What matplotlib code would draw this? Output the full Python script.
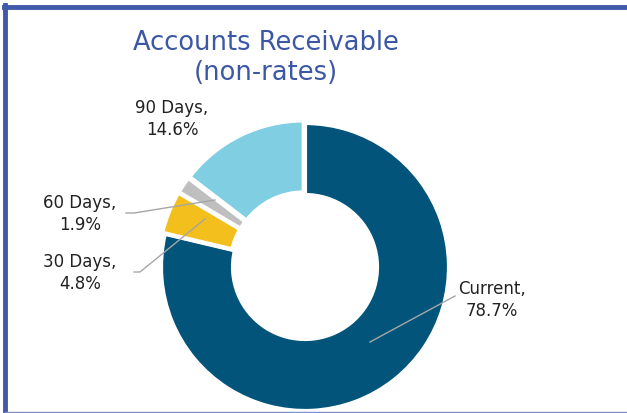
import matplotlib.pyplot as plt
from matplotlib.lines import Line2D

labels = ["Current", "30 Days", "60 Days", "90 Days"]
values = [78.7, 4.8, 1.9, 14.6]
colors = ["#02547A", "#F2BF1C", "#BFBFBF", "#80CEE1"]

plt.rcParams['font.family'] = ['DejaVu Sans']

fig = plt.figure(figsize=(6.27, 4.14), dpi=100)
ax = fig.add_axes([0, 0, 1, 1])

# pie center at pixel (305, 268), radius ~144 px
s = 144.0

wedges, _ = ax.pie(values, colors=colors, startangle=90, counterclock=False,
                   radius=1.0, wedgeprops=dict(width=0.5, edgecolor="white", linewidth=3),
                   explode=[0, 0.02, 0.02, 0.02])
ax.set_aspect("auto")
ax.set_xlim(-305 / s, (627 - 305) / s)
ax.set_ylim(-(414 - 268) / s, 268 / s)
ax.axis("off")

def px(x, y):
    return ((x - 305) / s, (268 - y) / s)

lc = "#A6A6A6"
fs = 12
tc = "#222222"
# Current
ax.plot(*zip(px(370, 343), px(455, 297)), color=lc, lw=1)
ax.text(*px(492, 300), "Current,\n78.7%", ha="center", va="center", fontsize=fs, color=tc, linespacing=1.3)
# 30 Days
ax.plot(*zip(px(134, 273), px(140, 273), px(205, 220)), color=lc, lw=1)
ax.text(*px(80, 273), "30 Days,\n4.8%", ha="center", va="center", fontsize=fs, color=tc, linespacing=1.3)
# 60 Days
ax.plot(*zip(px(126, 214), px(134, 214), px(215, 201)), color=lc, lw=1)
ax.text(*px(80, 214), "60 Days,\n1.9%", ha="center", va="center", fontsize=fs, color=tc, linespacing=1.3)
# 90 Days
ax.text(*px(172, 119), "90 Days,\n14.6%", ha="center", va="center", fontsize=fs, color=tc, linespacing=1.3)

fig.text(266 / 627, 1 - 58 / 414, "Accounts Receivable\n(non-rates)", ha="center", va="center",
         fontsize=18.5, color="#3C58A5", linespacing=1.25)

# border: left and top thick, bottom thin
def fline(xs, ys, **kw):
    fig.add_artist(Line2D([x / 627 for x in xs], [1 - y / 414 for y in ys],
                          transform=fig.transFigure, **kw))

fline([5, 5], [6, 414], color="#4059A9", lw=3.5)
fline([3.5, 627], [7.5, 7.5], color="#4059A9", lw=3.5)
fline([5, 627], [413, 413], color="#8090C8", lw=1)

plt.savefig("out.png", dpi=100)
